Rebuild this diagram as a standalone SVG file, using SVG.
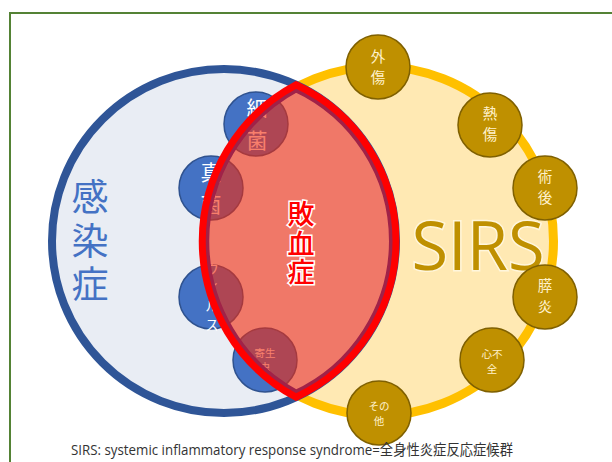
<svg xmlns="http://www.w3.org/2000/svg" width="612" height="462" viewBox="0 0 612 462">
<style>
.cjk{font-family:"Noto Sans CJK JP","Noto Sans",sans-serif;text-anchor:middle}
.bsmall{fill:#4472C4;stroke:#2F528F;stroke-width:1.5}
.gsmall{fill:#BF9000;stroke:#7F6000;stroke-width:1.5}
.wt{fill:#FFFFFF}
.gt{fill:#FFF2CC}
</style>
<defs>
<clipPath id="lensClip"><path d="M296,84.8 A177,177 0 0,0 296,397.2 A172,172 0 0,0 296,84.8 Z"/></clipPath>
</defs>
<rect x="0" y="0" width="612" height="462" fill="#FFFFFF"/>
<rect x="10" y="13" width="610" height="460" fill="none" stroke="#548235" stroke-width="2"/>

<g id="sirs-circle">
<circle cx="379" cy="241" r="174.5" fill="#FFE9B3" stroke="#FFC000" stroke-width="9"/>
</g>
<g id="infection-circle">
<circle cx="224" cy="241" r="172" fill="#E9EDF4" stroke="#2F5597" stroke-width="8"/>
</g>

<g id="bacteria">
<circle class="bsmall" cx="256" cy="124" r="32"/>
<text class="cjk wt" font-size="21"><tspan x="257" y="116">細</tspan><tspan x="257" y="148">菌</tspan></text>
</g>
<g id="fungi">
<circle class="bsmall" cx="211" cy="188" r="32"/>
<text class="cjk wt" font-size="21"><tspan x="211" y="180">真</tspan><tspan x="211" y="212">菌</tspan></text>
</g>
<g id="virus">
<circle class="bsmall" cx="211" cy="297" r="32"/>
<text class="cjk wt" font-size="13.5"><tspan x="212" y="274">ウ</tspan><tspan x="212" y="293">イ</tspan><tspan x="212" y="311">ル</tspan><tspan x="212" y="330">ス</tspan></text>
</g>
<g id="parasite">
<circle class="bsmall" cx="265" cy="360" r="32"/>
<text class="cjk wt" font-size="10.5"><tspan x="265" y="357">寄生</tspan><tspan x="265" y="371">虫</tspan></text>
</g>

<g id="sepsis-lens">
<path d="M296,84.8 A177,177 0 0,0 296,397.2 A172,172 0 0,0 296,84.8 Z" fill="#F52A0A" fill-opacity="0.6" stroke="none"/>
<path d="M296,84.8 A177,177 0 0,0 296,397.2 A172,172 0 0,0 296,84.8 Z" fill="none" stroke="#A02248" stroke-width="14" clip-path="url(#lensClip)"/>
<path d="M296,84.8 A177,177 0 0,0 296,397.2 A172,172 0 0,0 296,84.8 Z" fill="none" stroke="#FF0000" stroke-width="7" stroke-linejoin="miter"/>
<text class="cjk" font-size="27" fill="#FF0000" stroke="#FFFFFF" stroke-width="3" paint-order="stroke" font-weight="500"><tspan x="301" y="224">敗</tspan><tspan x="301" y="254">血</tspan><tspan x="301" y="282">症</tspan></text>
</g>

<g id="infection-label">
<text class="cjk" font-size="37" fill="#4472C4"><tspan x="90" y="211">感</tspan><tspan x="90" y="255">染</tspan><tspan x="90" y="298">症</tspan></text>
</g>

<g id="sirs-label">
<text x="478" y="270" font-family="'Open Sans','Noto Sans',sans-serif" font-size="68" fill="#BF9000" stroke="#FFF6DC" stroke-width="3" paint-order="stroke" text-anchor="middle" textLength="133" lengthAdjust="spacingAndGlyphs">SIRS</text>
</g>

<g id="trauma">
<circle class="gsmall" cx="378" cy="67" r="32"/>
<text class="cjk gt" font-size="14.5"><tspan x="378" y="62">外</tspan><tspan x="378" y="83">傷</tspan></text>
</g>
<g id="burn">
<circle class="gsmall" cx="490" cy="125" r="32"/>
<text class="cjk gt" font-size="14.5"><tspan x="490" y="119">熱</tspan><tspan x="490" y="140">傷</tspan></text>
</g>
<g id="postop">
<circle class="gsmall" cx="545" cy="188" r="32"/>
<text class="cjk gt" font-size="14.5"><tspan x="545" y="182">術</tspan><tspan x="545" y="203">後</tspan></text>
</g>
<g id="pancreatitis">
<circle class="gsmall" cx="545" cy="297" r="32"/>
<text class="cjk gt" font-size="14.5"><tspan x="545" y="291">膵</tspan><tspan x="545" y="312">炎</tspan></text>
</g>
<g id="heart-failure">
<circle class="gsmall" cx="492" cy="360" r="32"/>
<text class="cjk gt" font-size="10.5"><tspan x="492" y="358">心不</tspan><tspan x="492" y="373">全</tspan></text>
</g>
<g id="others">
<circle class="gsmall" cx="379" cy="413" r="32"/>
<text class="cjk gt" font-size="10.5"><tspan x="379" y="410">その</tspan><tspan x="379" y="425">他</tspan></text>
</g>

<g id="connectors"></g>

<g id="caption">
<text x="71" y="455" font-family="'Open Sans','Noto Sans CJK JP',sans-serif" font-size="14.5" fill="#333333" textLength="442" lengthAdjust="spacingAndGlyphs">SIRS: systemic inflammatory response syndrome=<tspan font-family="'Noto Sans CJK JP',sans-serif">全身性炎症反応症候群</tspan></text>
</g>
</svg>
